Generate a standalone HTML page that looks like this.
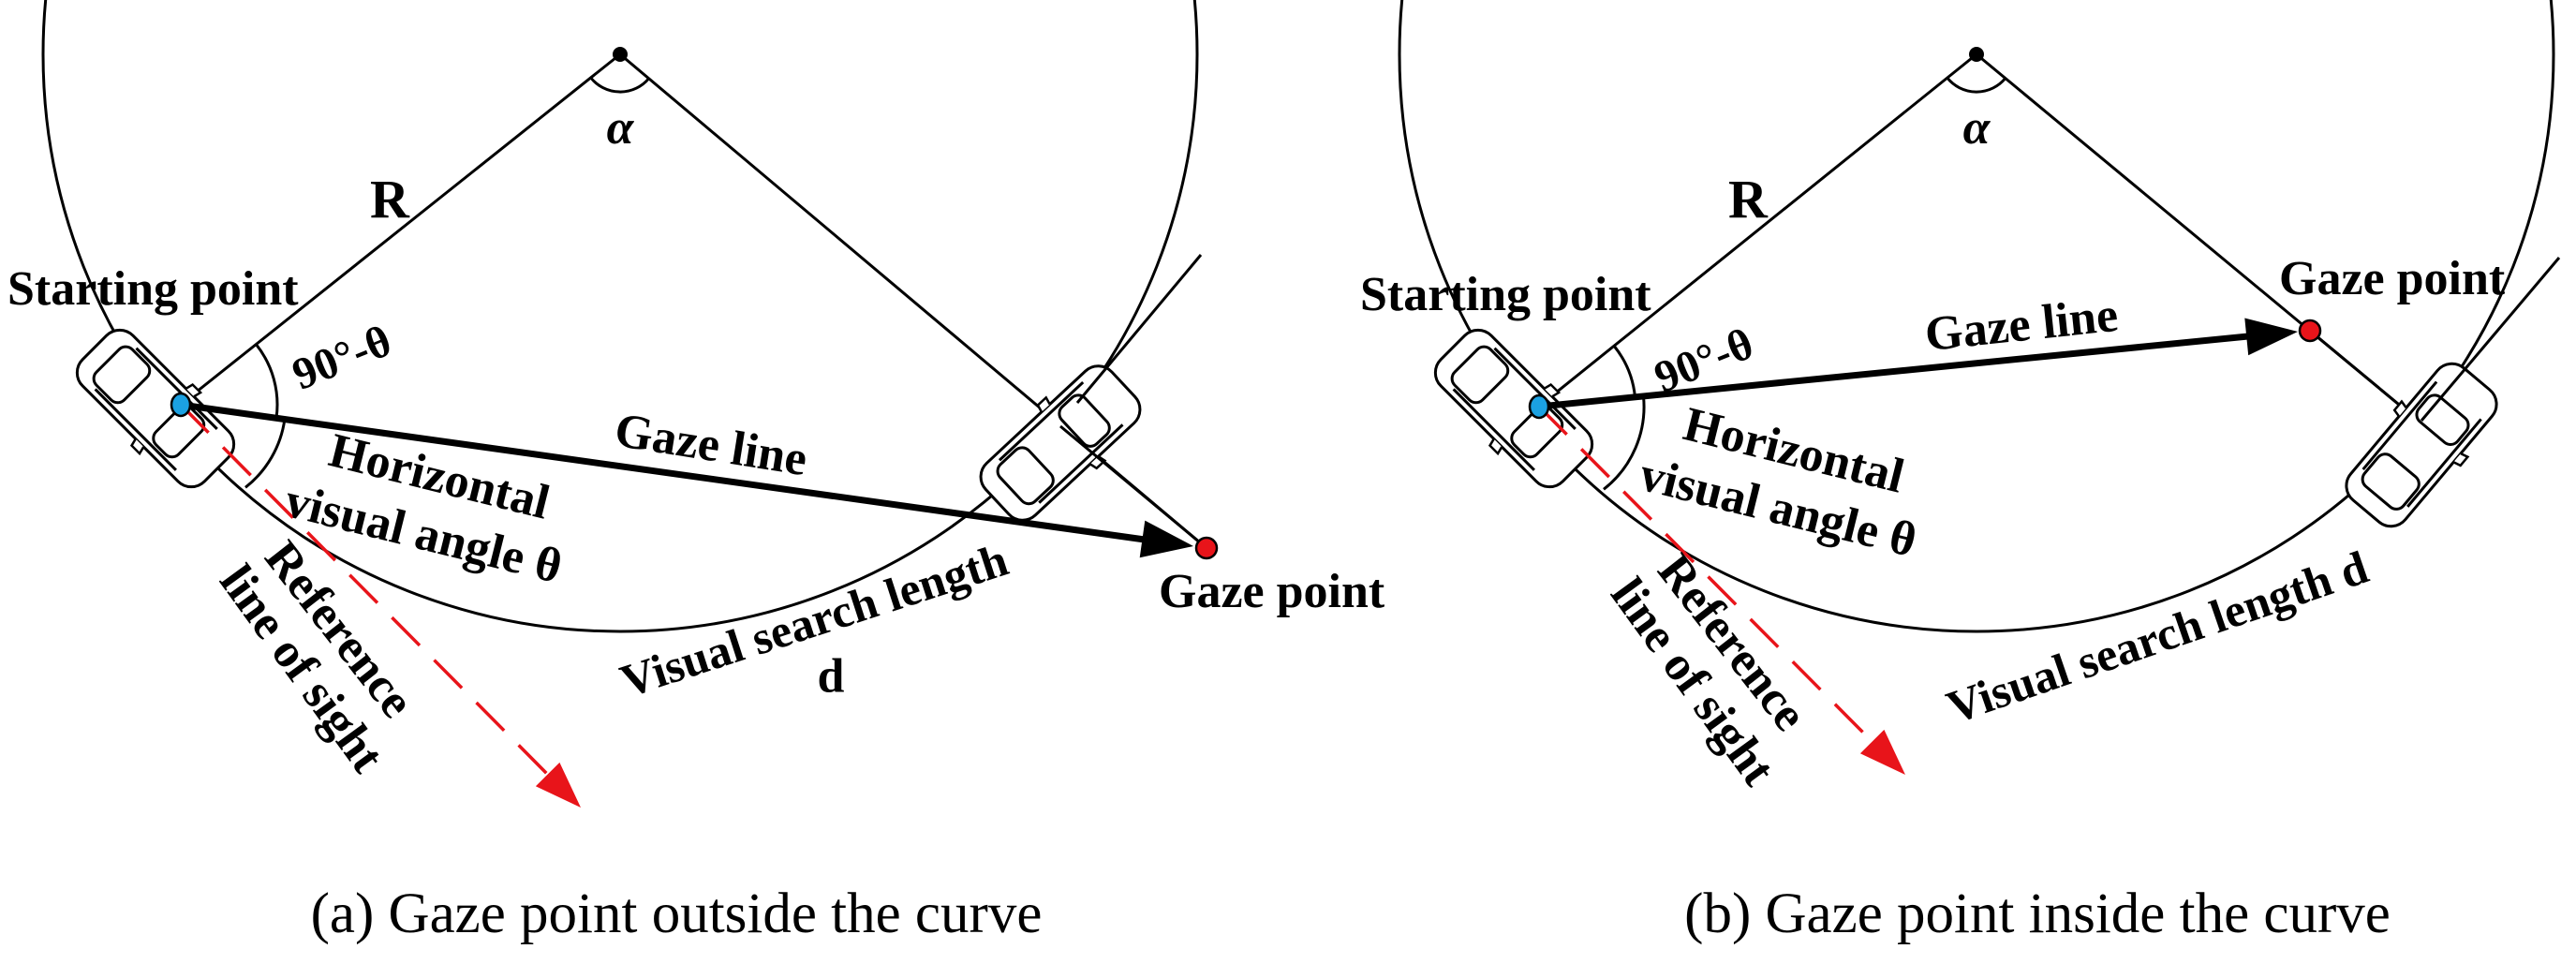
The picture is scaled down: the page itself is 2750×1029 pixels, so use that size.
<!DOCTYPE html>
<html><head><meta charset="utf-8"><style>
html,body{margin:0;padding:0;background:#fff;}
svg{display:block}
text{font-family:"Liberation Serif",serif;}
.b{font-weight:bold;font-size:52px;fill:#000}
</style></head><body>
<svg width="2750" height="1029" viewBox="0 0 2750 1029" xmlns="http://www.w3.org/2000/svg">
<defs>
<g id="car">
<rect x="-92" y="-38" width="184" height="76" rx="20" fill="#fff" stroke="#000" stroke-width="3"/>
<rect x="-72" y="-27" width="42" height="54" rx="10" fill="none" stroke="#000" stroke-width="3"/>
<rect x="18" y="-27" width="34" height="54" rx="10" fill="none" stroke="#000" stroke-width="3"/>
<line x1="-60" y1="-31" x2="62" y2="-31" stroke="#000" stroke-width="3"/>
<line x1="-60" y1="31" x2="62" y2="31" stroke="#000" stroke-width="3"/>
<path d="M8 -38 L10 -46 L22 -46 L20 -38" fill="#fff" stroke="#000" stroke-width="2.5"/>
<path d="M8 38 L10 46 L22 46 L20 38" fill="#fff" stroke="#000" stroke-width="2.5"/>
</g>
</defs>

<!-- LEFT PANEL -->
<circle cx="662" cy="58" r="616" fill="none" stroke="#000" stroke-width="3"/>
<line x1="662" y1="58" x2="200" y2="426" stroke="#000" stroke-width="3"/>
<line x1="662" y1="58" x2="1288" y2="585" stroke="#000" stroke-width="3"/>
<circle cx="662" cy="58" r="8" fill="#000"/>
<path d="M692.6 83.8 A40 40 0 0 1 630.7 83" fill="none" stroke="#000" stroke-width="3"/>
<use href="#car" transform="translate(166,436) rotate(45)"/>
<use href="#car" transform="translate(1132,473) rotate(-43)"/>
<line x1="1282" y1="272" x2="1150" y2="430" stroke="#000" stroke-width="3"/>
<line x1="1132" y1="455" x2="1288" y2="585" stroke="#000" stroke-width="3"/>
<path d="M273.5 367.7 A103 103 0 0 1 295 446.2" fill="none" stroke="#000" stroke-width="3"/>
<path d="M303.9 447.6 A112 112 0 0 1 262 520.3" fill="none" stroke="#000" stroke-width="3"/>
<line x1="193" y1="432" x2="584.6" y2="826.6" stroke="#e8141a" stroke-width="3.5" stroke-dasharray="42 22"/>
<polygon points="620,862 571.9,839.3 597.4,813.9" fill="#e8141a"/>
<line x1="193" y1="432" x2="1222" y2="576" stroke="#000" stroke-width="7"/>
<polygon points="1274,583 1216.7,595.2 1222.3,555.6" fill="#000"/>
<ellipse cx="193" cy="432" rx="10" ry="12" fill="#1ba1e2" stroke="#000" stroke-width="2.5"/>
<circle cx="1288" cy="585" r="11" fill="#e8141a" stroke="#000" stroke-width="2.5"/>

<text class="b" x="8" y="325">Starting point</text>
<text class="b" x="395" y="232" style="font-size:58px">R</text>
<text class="b" x="662" y="153" text-anchor="middle" font-style="italic">α</text>
<text class="b" x="365" y="382" text-anchor="middle" dominant-baseline="central" transform="rotate(-22 365 382)" style="font-size:48px">90°-θ</text>
<text class="b" x="759" y="475" text-anchor="middle" dominant-baseline="central" transform="rotate(9 759 475)">Gaze line</text>
<text class="b" x="469" y="509" text-anchor="middle" dominant-baseline="central" transform="rotate(14 469 509)">Horizontal</text>
<text class="b" x="452" y="570" text-anchor="middle" dominant-baseline="central" transform="rotate(14 452 570)">visual angle θ</text>
<text class="b" x="362" y="672" text-anchor="middle" dominant-baseline="central" transform="rotate(52 362 672)">Reference</text>
<text class="b" x="322" y="714" text-anchor="middle" dominant-baseline="central" transform="rotate(54 322 714)">line of sight</text>
<text class="b" x="869" y="662" text-anchor="middle" dominant-baseline="central" transform="rotate(-18 869 662)" style="font-size:50px">Visual search length</text>
<text class="b" x="887" y="722" text-anchor="middle" dominant-baseline="central">d</text>
<text class="b" x="1237" y="648">Gaze point</text>
<text x="722" y="995" text-anchor="middle" style="font-size:61px">(a) Gaze point outside the curve</text>

<!-- RIGHT PANEL -->
<circle cx="2110" cy="58" r="616" fill="none" stroke="#000" stroke-width="3"/>
<line x1="2110" y1="58" x2="1650" y2="428" stroke="#000" stroke-width="3"/>
<line x1="2110" y1="58" x2="2584" y2="451" stroke="#000" stroke-width="3"/>
<circle cx="2110" cy="58" r="8" fill="#000"/>
<path d="M2140.8 83.6 A40 40 0 0 1 2078.8 83.1" fill="none" stroke="#000" stroke-width="3"/>
<use href="#car" transform="translate(1616,436) rotate(45)"/>
<use href="#car" transform="translate(2585,475) rotate(-50)"/>
<line x1="2732" y1="275" x2="2585" y2="449" stroke="#000" stroke-width="3"/>
<line x1="2466" y1="353" x2="2560" y2="431" stroke="#000" stroke-width="3"/>
<path d="M1723.3 369.5 A103 103 0 0 1 1745.5 423.9" fill="none" stroke="#000" stroke-width="3"/>
<path d="M1754.5 423.1 A112 112 0 0 1 1712 522.3" fill="none" stroke="#000" stroke-width="3"/>
<line x1="1643" y1="434" x2="1998.6" y2="791.6" stroke="#e8141a" stroke-width="3.5" stroke-dasharray="42 22"/>
<polygon points="2034,827 1985.9,804.3 2011.4,778.9" fill="#e8141a"/>
<line x1="1643" y1="434" x2="2400" y2="359" stroke="#000" stroke-width="7"/>
<polygon points="2453,354 2400.2,379.3 2396.3,339.5" fill="#000"/>
<ellipse cx="1643" cy="434" rx="10" ry="12" fill="#1ba1e2" stroke="#000" stroke-width="2.5"/>
<circle cx="2466" cy="353" r="11" fill="#e8141a" stroke="#000" stroke-width="2.5"/>

<text class="b" x="1452" y="331">Starting point</text>
<text class="b" x="1845" y="232" style="font-size:58px">R</text>
<text class="b" x="2110" y="153" text-anchor="middle" font-style="italic">α</text>
<text class="b" x="1819" y="385" text-anchor="middle" dominant-baseline="central" transform="rotate(-22 1819 385)" style="font-size:48px">90°-θ</text>
<text class="b" x="2158" y="347" text-anchor="middle" dominant-baseline="central" transform="rotate(-6 2158 347)">Gaze line</text>
<text class="b" x="1915" y="481" text-anchor="middle" dominant-baseline="central" transform="rotate(14 1915 481)">Horizontal</text>
<text class="b" x="1898" y="542" text-anchor="middle" dominant-baseline="central" transform="rotate(14 1898 542)">visual angle θ</text>
<text class="b" x="1849" y="686" text-anchor="middle" dominant-baseline="central" transform="rotate(52 1849 686)">Reference</text>
<text class="b" x="1807" y="728" text-anchor="middle" dominant-baseline="central" transform="rotate(54 1807 728)">line of sight</text>
<text class="b" x="2303" y="680" text-anchor="middle" dominant-baseline="central" transform="rotate(-19 2303 680)" style="font-size:50px">Visual search length d</text>
<text class="b" x="2433" y="314">Gaze point</text>
<text x="2175" y="995" text-anchor="middle" style="font-size:61px">(b) Gaze point inside the curve</text>
</svg>
</body></html>
